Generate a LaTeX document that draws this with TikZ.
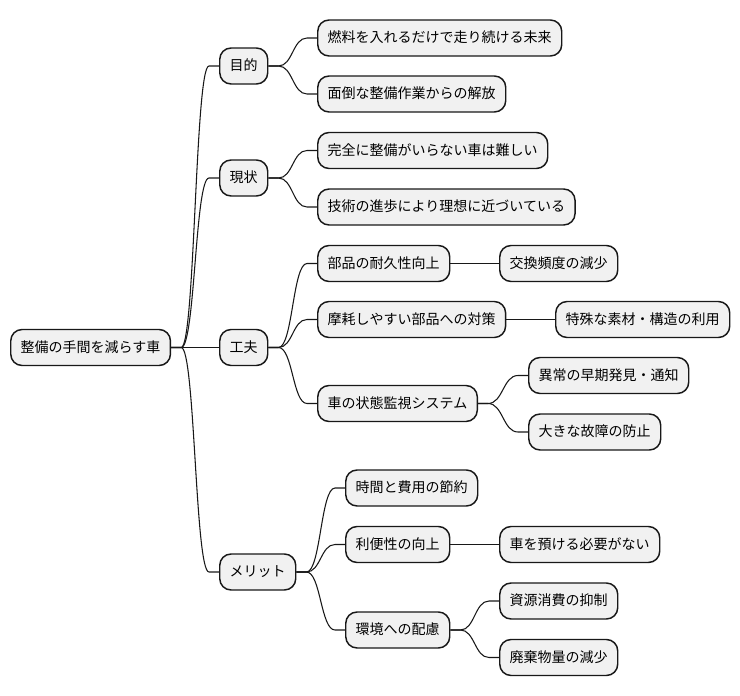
\documentclass[tikz,border=0pt]{standalone}
\usepackage{fontspec}
\setmainfont{Noto Sans CJK JP}
\usetikzlibrary{calc}
\definecolor{boxfill}{HTML}{F1F1F1}
\definecolor{boxline}{HTML}{181818}
\tikzset{
  mmbox/.style={draw=boxline, fill=boxfill, line width=1.1pt, rounded corners=8.5pt,
    anchor=west, minimum height=27pt, inner xsep=7.5pt, inner ysep=0pt,
    text height=8.6pt, text depth=1.6pt, font=\fontsize{10.5pt}{12pt}\selectfont},
  mmlink/.style={draw=boxline, line width=0.8pt}
}
\newcommand\mmconnect[2]{%
  \draw[mmlink] let \p1=($(#1.east)+(7.5pt,0)$), \p2=($(#2.west)+(-7.5pt,0)$) in
    (#1.east) -- (\p1) .. controls ({(\x1+\x2)/2},\y1) and ({(\x1+\x2)/2},\y2) .. (\p2) -- (#2.west);}
\begin{document}
\begin{tikzpicture}[x=0.75pt,y=-0.75pt]
\useasboundingbox (0,0) rectangle (740,696);
\node[mmbox] (root) at (10,347.5) {整備の手間を減らす車};
\node[mmbox] (a) at (219,66) {目的};
\node[mmbox] (a1) at (317,38) {燃料を入れるだけで走り続ける未来};
\node[mmbox] (a2) at (317,94) {面倒な整備作業からの解放};
\node[mmbox] (b) at (219,178) {現状};
\node[mmbox] (b1) at (317,150.5) {完全に整備がいらない車は難しい};
\node[mmbox] (b2) at (317,207) {技術の進歩により理想に近づいている};
\node[mmbox] (c) at (219,347.5) {工夫};
\node[mmbox] (c1) at (317,263.5) {部品の耐久性向上};
\node[mmbox] (c1a) at (499,263.5) {交換頻度の減少};
\node[mmbox] (c2) at (317,319.5) {摩耗しやすい部品への対策};
\node[mmbox] (c2a) at (555,319.5) {特殊な素材・構造の利用};
\node[mmbox] (c3) at (317,403.5) {車の状態監視システム};
\node[mmbox] (c3a) at (528,375.5) {異常の早期発見・通知};
\node[mmbox] (c3b) at (528,432) {大きな故障の防止};
\node[mmbox] (d) at (219,572) {メリット};
\node[mmbox] (d1) at (345,488) {時間と費用の節約};
\node[mmbox] (d2) at (345,544.5) {利便性の向上};
\node[mmbox] (d2a) at (499,544.5) {車を預ける必要がない};
\node[mmbox] (d3) at (345,630) {環境への配慮};
\node[mmbox] (d3a) at (499,601) {資源消費の抑制};
\node[mmbox] (d3b) at (499,657.5) {廃棄物量の減少};
\mmconnect{root}{a}
\mmconnect{root}{b}
\mmconnect{root}{c}
\mmconnect{root}{d}
\mmconnect{a}{a1}
\mmconnect{a}{a2}
\mmconnect{b}{b1}
\mmconnect{b}{b2}
\mmconnect{c}{c1}
\mmconnect{c}{c2}
\mmconnect{c}{c3}
\mmconnect{c1}{c1a}
\mmconnect{c2}{c2a}
\mmconnect{c3}{c3a}
\mmconnect{c3}{c3b}
\mmconnect{d}{d1}
\mmconnect{d}{d2}
\mmconnect{d}{d3}
\mmconnect{d2}{d2a}
\mmconnect{d3}{d3a}
\mmconnect{d3}{d3b}
\end{tikzpicture}
\end{document}
